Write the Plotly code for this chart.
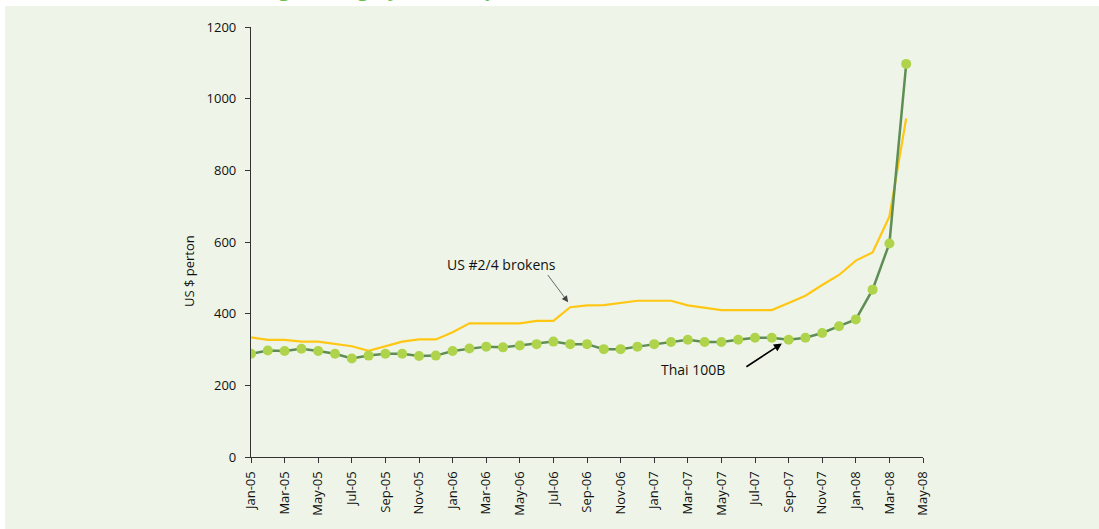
import plotly.graph_objects as go

months = ["Jan-05","Feb-05","Mar-05","Apr-05","May-05","Jun-05","Jul-05","Aug-05","Sep-05","Oct-05","Nov-05","Dec-05",
          "Jan-06","Feb-06","Mar-06","Apr-06","May-06","Jun-06","Jul-06","Aug-06","Sep-06","Oct-06","Nov-06","Dec-06",
          "Jan-07","Feb-07","Mar-07","Apr-07","May-07","Jun-07","Jul-07","Aug-07","Sep-07","Oct-07","Nov-07","Dec-07",
          "Jan-08","Feb-08","Mar-08","Apr-08"]
tick_labels = ["Jan-05","Mar-05","May-05","Jul-05","Sep-05","Nov-05","Jan-06","Mar-06","May-06","Jul-06","Sep-06",
               "Nov-06","Jan-07","Mar-07","May-07","Jul-07","Sep-07","Nov-07","Jan-08","Mar-08","May-08"]

thai_100b = [288, 297, 296, 302, 296, 288, 275, 283, 288, 288, 282, 283,
             296, 303, 308, 306, 311, 315, 322, 315, 315, 301, 301, 308,
             315, 321, 327, 321, 321, 327, 333, 333, 327, 333, 346, 365,
             384, 467, 596, 1097]
us_brokens = [334, 327, 327, 322, 322, 315, 309, 296, 310, 322, 328, 328,
              348, 373, 373, 373, 373, 380, 380, 418, 423, 424, 430, 436,
              436, 436, 423, 416, 410, 410, 410, 410, 430, 450, 480, 508,
              548, 571, 671, 945]

x_idx = list(range(len(months)))
tick_idx = list(range(0, 2 * len(tick_labels), 2))

FONT = "Open Sans"
W, H = 1099, 529
L, R, T, B = 251, 176, 27, 72
pw = W - L - R
ph = H - T - B

def px2paper_x(px):
    return (px - L) / pw

def px2paper_y(py):
    return (H - B - py) / ph

fig = go.Figure()
fig.add_trace(go.Scatter(x=x_idx, y=us_brokens, mode="lines", name="US #2/4 brokens",
                         line=dict(color="#FFC713", width=2.2), hovertext=months))
fig.add_trace(go.Scatter(x=x_idx, y=thai_100b, mode="lines+markers", name="Thai 100B",
                         line=dict(color="#5E8E55", width=2.5),
                         marker=dict(color="#AFD34A", size=10), hovertext=months))

# background panel
fig.add_shape(type="rect", xref="paper", yref="paper", layer="below",
              x0=px2paper_x(5), x1=px2paper_x(W + 5), y0=px2paper_y(H + 5), y1=px2paper_y(6),
              fillcolor="#EEF5E8", line=dict(width=0))

annotations = [
    dict(text="US #2/4 brokens", x=px2paper_x(501), y=px2paper_y(264), xref="paper", yref="paper",
         xanchor="center", yanchor="middle",
         showarrow=False, font=dict(family=FONT, size=14, color="#111")),
    dict(text="Thai 100B", x=px2paper_x(693), y=px2paper_y(369), xref="paper", yref="paper",
         xanchor="center", yanchor="middle",
         showarrow=False, font=dict(family=FONT, size=14, color="#111")),
    dict(text="", x=18.88, y=432, ax=17.6, ay=512, xref="x", yref="y", axref="x", ayref="y",
         showarrow=True, arrowhead=2, arrowsize=1.6, arrowwidth=0.8, arrowcolor="#444"),
    dict(text="", x=31.6, y=317, ax=29.4, ay=249, xref="x", yref="y", axref="x", ayref="y",
         showarrow=True, arrowhead=2, arrowsize=1, arrowwidth=1.6, arrowcolor="#000"),
    dict(text="US $ perton", textangle=-90, x=px2paper_x(189), y=px2paper_y(271), xref="paper", yref="paper",
         xanchor="center", yanchor="middle",
         showarrow=False, font=dict(family=FONT, size=13, color="#111")),
    dict(text="<b>Rising and highly volatile prices</b>", x=px2paper_x(228), y=px2paper_y(4),
         xref="paper", yref="paper", xanchor="left", yanchor="bottom", showarrow=False,
         font=dict(family=FONT, size=20, color="#6CC24A")),
]

fig.update_layout(
    width=W, height=H,
    margin=dict(l=L, r=R, t=T, b=B, pad=0),
    paper_bgcolor="white", plot_bgcolor="rgba(0,0,0,0)",
    showlegend=False,
    annotations=annotations,
    font=dict(family=FONT, size=13, color="#111"),
)
fig.update_xaxes(range=[0, 40], tickmode="array", tickvals=tick_idx, ticktext=tick_labels,
                 tickangle=-90, ticks="outside", ticklen=5, tickcolor="#333", showgrid=False,
                 zeroline=False, showline=True, linecolor="#333", linewidth=1.2,
                 ticklabelstandoff=3,
                 tickfont=dict(family=FONT, size=13, color="#111"))
fig.update_yaxes(range=[0, 1200], tickvals=[0, 200, 400, 600, 800, 1000, 1200],
                 ticks="outside", ticklen=5, tickcolor="#333", showgrid=False, zeroline=False,
                 showline=True, linecolor="#333", linewidth=1.2,
                 ticklabelstandoff=6,
                 tickfont=dict(family=FONT, size=13, color="#111"))

fig.write_html("out.html")
